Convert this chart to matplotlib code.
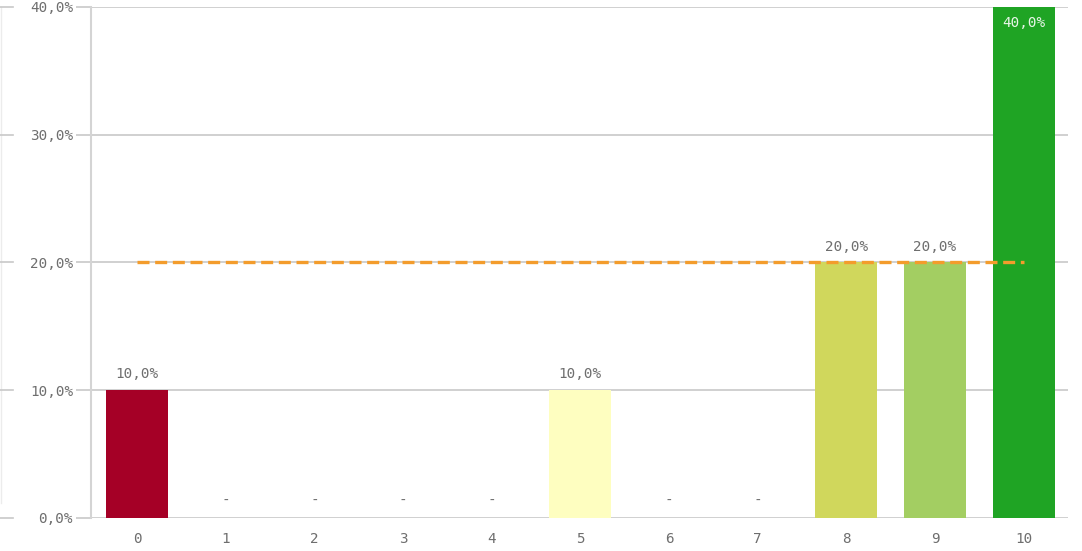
import matplotlib
matplotlib.use("Agg")
import matplotlib.pyplot as plt

categories = ["0", "1", "2", "3", "4", "5", "6", "7", "8", "9", "10"]
values = [10, 0, 0, 0, 0, 10, 0, 0, 20, 20, 40]
bar_colors = ["#A50026", "#FFFFFF", "#FFFFFF", "#FFFFFF", "#FFFFFF", "#FEFEC0",
              "#FFFFFF", "#FFFFFF", "#D0D75C", "#A3CE62", "#1FA424"]
reference_value = 20
yticks = [0, 10, 20, 30, 40]

def fmt(v):
    return f"{v:.1f}%".replace(".", ",")

font = "DejaVu Sans Mono"
text_color = "#6e6e6e"
grid_color = "#c8c8c8"

fig = plt.figure(figsize=(10.82, 5.51), dpi=100)
ax = fig.add_axes([0.0841, 0.0599, 0.9029, 0.9274])

x = list(range(len(categories)))
ax.bar(x, values, width=0.70, color=bar_colors, zorder=3)

ax.set_xlim(-0.52, 10.5)
ax.set_ylim(0, 40)
ax.set_yticks(yticks)
ax.set_yticklabels([fmt(v) for v in yticks], fontsize=10.3, family=font, color=text_color)
ax.set_xticks(x)
ax.set_xticklabels(categories, fontsize=10.3, family=font, color=text_color)
ax.tick_params(axis="y", length=11, width=1.2, color=grid_color, pad=2)
ax.tick_params(axis="x", length=0, pad=10)

for y in yticks:
    ax.axhline(y, color=grid_color, lw=1.2, zorder=1)
    ax.axhline(y, xmin=-0.0841 / 0.9029, xmax=-0.072 / 0.9029, color=grid_color,
               lw=1.2, clip_on=False, zorder=1)

for s in ["top", "right"]:
    ax.spines[s].set_visible(False)
ax.spines["bottom"].set_visible(False)
ax.spines["left"].set_color("#d4d4d4")
ax.spines["left"].set_linewidth(1.5)

# faint frame line at the far left
ax.axvline(-0.52, ymin=0.03, ymax=1.0, color="#ececec", lw=1.0, zorder=0)
ax.lines[-1].set_xdata([-0.52 - 91 / 88.7 + 0.01] * 2)
ax.lines[-1].set_clip_on(False)

ax.plot([0, 10], [reference_value, reference_value], color="#F39C2C", lw=2.4,
        dashes=(3.6, 1.7), zorder=4)

for xi, v in zip(x, values):
    if v == 0:
        ax.text(xi, 0.8, "-", ha="center", va="bottom", fontsize=10.3, family=font,
                color=text_color)
    elif v >= 38:
        ax.text(xi, v - 0.7, fmt(v), ha="center", va="top", fontsize=10.3, family=font,
                color="#e8f5e8", zorder=5)
    else:
        ax.text(xi, v + 0.7, fmt(v), ha="center", va="bottom", fontsize=10.3, family=font,
                color=text_color, zorder=5)

fig.savefig("out.png", dpi=100)
